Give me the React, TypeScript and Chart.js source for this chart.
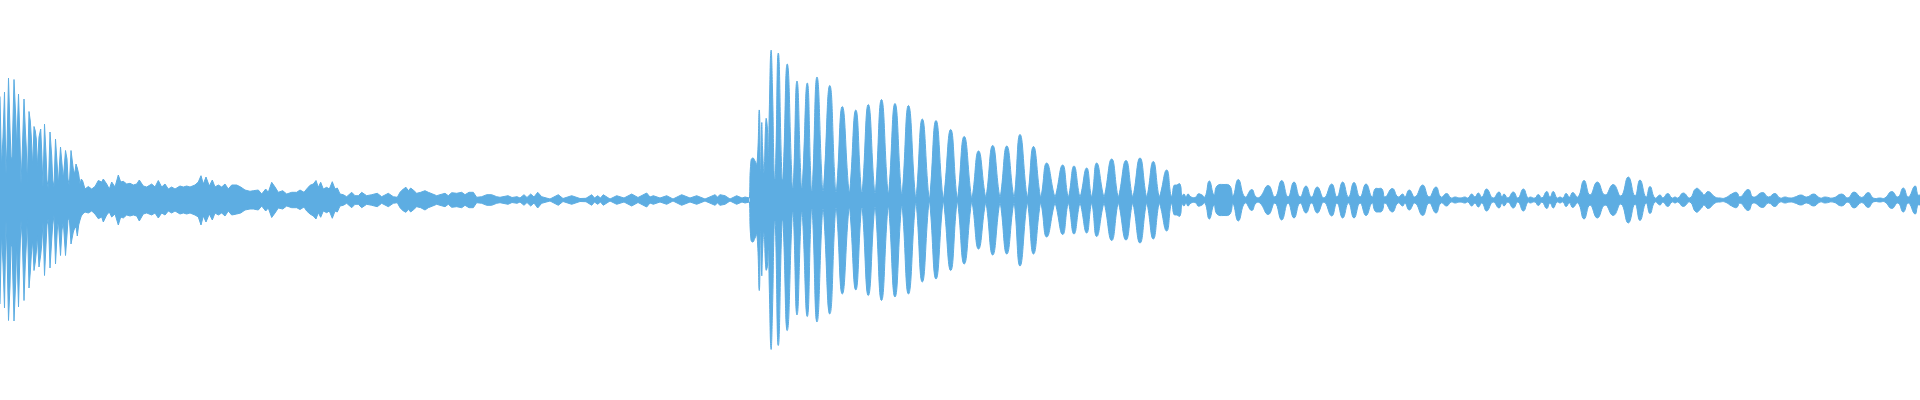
import React, { useEffect, useRef } from "react";
import { Chart, registerables } from "chart.js";

Chart.register(...registerables);

// Waveform envelope: analysis frame index, upper peak and lower peak (amplitude units, full scale ±200)
const frames: number[] = [
  // attack
  0, 1.5, 3, 4.5, 6, 7, 8.5, 10, 11, 12,
  14, 15.7, 16.7, 18.5, 20, 21, 22.3, 24, 25.3, 26.3,
  27.3, 29, 30.3, 31.3, 32.7, 34, 35.3, 36.3, 37.3, 39,
  40.7, 41.7, 43, 44.5, 46, 47, 48.3, 50, 51.7, 52.7,
  54, 55.5, 57.3, 58.3, 60.5, 62, 63.3, 65.5, 67, 68,
  69.3, 71, 73.3, 74.7, 76, 77.3, 78.7, 80, 81.3, 82.7,
  // decay noise
  85, 88.3, 91.7, 95, 98.3, 101.7, 103.3, 106.7, 109.3, 111.7,
  115, 118.3, 120.7, 123.3, 126.7, 130, 133.3, 136.7, 139.3, 143.3,
  146.7, 151.7, 155, 158.3, 161.7, 165, 168.3, 171.7, 175, 180,
  183.3, 186.7, 190, 195, 198.3, 201, 203.3, 206, 209.3, 212.3,
  215, 218.3, 221.7, 225, 228.3, 231.7, 236.7, 240.7, 245, 250,
  253.3, 258.3, 261.7, 265.7, 268.3, 271.7, 275, 278.3, 282.7, 286.7,
  291.7, 296.7, 300, 304, 306.7, 310, 313.3, 316, 318.3, 320.7,
  323.3, 326.7, 329.3, 332.3, 335, 337.3, 340, 343.3, 346.7, 351.7,
  355, 358.3, 361.7, 366.7, 371.7, 377.3, 381.7, 388.3, 393.3, 397.3,
  400, 403.3, 406, 408.3, 410.7, 414, 416.7, 420.7, 425, 428.3,
  432.7, 436.7, 440, 445, 448.3, 451.7, 456.7, 461.7, 465, 469,
  473.3, 476.7, 481.7, 486.7, 491.7, 496.7, 500, 508, 512, 517,
  520, 524, 527, 530.7, 534, 537.7, 541.7, 550, 558.3, 563,
  571.7, 580, 586, 591.7, 594.5, 597.7, 600.5, 603.3, 610, 616.7,
  624, 631.7, 638, 646.7, 650, 653.3, 660, 666.7, 673, 681.7,
  690, 696.7, 705, 715, 717.5, 720, 725, 730, 736.7, 742,
  745, 749.5,
  // second hit with beating lobes
  751, 753, 755, 757, 759.3, 760.5, 761.7, 762.7, 764, 766,
  767.3, 768.3, 769.3, 771, 772.5, 774.3, 775.3, 778.3, 782, 783,
  787.3, 792.3, 793.3, 797, 801.3, 802.3, 807.3, 811.3, 812.3, 817,
  822.5, 823.5, 829.8, 835.5, 836.5, 842.3, 848.8, 849.8, 855.8, 861.3,
  862.3, 868.3, 874.5, 875.5, 881.5, 887.8, 888.8, 895, 901.3, 902.3,
  908.5, 915.3, 916.3, 922.3, 928.8, 929.8, 936, 942.8, 943.8, 950.7,
  956.8, 957.8, 964.2, 971.3, 972.3, 978.5, 985.3, 986.3, 992.7, 999.5,
  1000.5, 1006.8, 1013.5, 1014.5, 1020, 1026.8, 1027.8, 1033.5, 1040.2, 1041.2,
  1046.7, 1054.5, 1055.5, 1062.7, 1067.8, 1068.8, 1074, 1079.5, 1080.5, 1086.7,
  1091.2, 1092.2, 1096.7, 1103.5, 1104.5, 1111.7, 1117.8, 1118.8, 1126, 1132.2,
  1133.2, 1140, 1146.2, 1147.2, 1153.3, 1158.8, 1159.8, 1166.7, 1171, 1172,
  1174, 1176.7, 1180, 1182,
  // tail
  1184, 1186, 1188, 1191, 1196, 1198, 1202, 1205, 1209.3, 1214,
  1217, 1224, 1230, 1233, 1238.3, 1245, 1251.7, 1256, 1260, 1268.3,
  1275, 1281.7, 1288, 1294, 1300, 1306, 1311.5, 1317.3, 1324, 1331.7,
  1337, 1342.7, 1348.5, 1354, 1360, 1366, 1372, 1375, 1378.3, 1382,
  1385, 1392.3, 1398, 1402.7, 1405, 1409.3, 1415, 1422.7, 1429, 1436,
  1441, 1446.7, 1451, 1455, 1460, 1465, 1468, 1471.7, 1475, 1478.3,
  1482, 1486.7, 1493, 1499, 1502, 1504, 1508, 1513.3, 1518, 1523.3,
  1528, 1530, 1535, 1538.3, 1542, 1546.7, 1550, 1553.3, 1557, 1560,
  1563, 1566, 1569.5, 1572.7, 1578, 1584, 1590, 1597.3, 1605, 1613.3,
  1621, 1628.3, 1635, 1640, 1646, 1650, 1655, 1660, 1663, 1667.7,
  1672, 1675, 1678, 1683.3, 1690, 1696, 1701.5, 1704, 1708.3, 1715,
  1720, 1725, 1731.7, 1736.7, 1740, 1748.3, 1753.3, 1762.7, 1768.3, 1775,
  1780, 1785, 1790, 1795, 1801, 1806.7, 1814, 1820, 1825, 1833,
  1841.7, 1848, 1854, 1861.7, 1868.3, 1873.3, 1880, 1885, 1891.7, 1898,
  1903.3, 1908.3, 1915, 1918, 1920,
];

const upperPeak: number[] = [
  // attack
  103.5, 33, 63, 108, 26, 53, 122, 71, 43, 41,
  120.5, 84, 52, 106, 59, 16, 49, 101, 71, 52,
  16, 88.5, 79, 63, 33, 73.5, 69, 61, 33, 63,
  71, 49, 13, 76, 46, 20, 11, 68, 44, 20,
  13, 61, 33, 15, 53, 36, 21, 49.5, 41, 21,
  14, 49.5, 31, 26, 36, 32, 26, 16, 21, 19,
  // decay noise
  11, 13.5, 11, 13.5, 19.5, 18, 21, 16, 11, 18,
  13, 25, 18, 18.7, 16, 16.7, 15, 16, 20, 14,
  13, 16, 13, 19.5, 13, 16, 11, 13, 11, 14,
  13, 14, 13, 15, 18, 24.3, 16, 23, 14, 20,
  13, 15, 13, 16, 11, 15, 15, 13, 10, 8.7,
  9.3, 10, 6, 11, 7.7, 17.7, 13, 7.7, 9.3, 6,
  7.7, 7.7, 10, 7.7, 11, 14.7, 16, 19.5, 12.7, 17.7,
  11, 12.7, 11, 18.3, 11, 12, 6, 5.3, 3.3, 7.7,
  4.3, 4.3, 7.7, 4.3, 5.3, 6.7, 3.3, 6.7, 3.3, 2.7,
  7.7, 11, 12.7, 9.3, 12, 9.3, 6.7, 7.7, 9.3, 7.7,
  6, 4.3, 5.3, 6.7, 4.3, 7.3, 6.7, 7.7, 5.3, 7.7,
  7.7, 2.7, 3.3, 5.3, 5.3, 3.3, 2.7, 4.3, 2.5, 3.3,
  2, 5.3, 2.5, 6, 3, 7.7, 3.3, 1, 5.3, 1.5,
  4.3, 1.5, 1.7, 5.3, 2, 4.3, 2, 5.3, 1, 4.3,
  2, 6, 2.5, 7, 3, 4.3, 2, 4.3, 1, 5.3,
  2, 4.3, 1, 5.3, 3, 5.3, 4.3, 1, 4.3, 2,
  3, 2,
  // second hit
  39.5, 42, 39, 36, 90, 28, 77, 48, 28, 81,
  73, 45, 90, 149.5, 110, 22, 22, 147, 21, 21,
  136, 13, 13, 119, 13, 13, 117, 10, 10, 123,
  10, 10, 114.5, 9, 9, 93.5, 9, 9, 90, 8.5,
  8.5, 95.5, 8, 8, 100.5, 8, 8, 96.5, 7, 7,
  94.5, 4, 4, 81, 3, 3, 79.5, 3, 3, 70.5,
  3, 3, 63.5, 3, 3, 49, 4, 4, 54.5, 4,
  4, 54, 4, 4, 65.5, 4, 4, 53.5, 4, 4,
  37, 4, 4, 35, 4, 4, 34, 4, 4, 32,
  4, 4, 37, 4, 4, 41, 4, 4, 39.5, 4,
  4, 42, 4, 4, 38.5, 4, 4, 30, 4, 4,
  14.5, 15, 16, 4,
  // tail
  6, 3, 6, 3, 3, 6, 5, 3, 19, 5,
  14, 15.5, 14, 4, 20.5, 3, 10.5, 3, 3, 14.5,
  3, 19.5, 3, 18, 3, 14, 3, 13, 2, 16,
  3, 18, 3, 17.5, 3, 16, 3, 11, 11.5, 11,
  3, 11.5, 3, 6, 3, 10, 3, 15, 3, 13,
  3, 6.5, 2, 3, 2, 3, 2, 6, 3, 7,
  3, 11, 2, 8, 3, 6, 2, 8, 2, 11,
  2, 3, 2, 5.5, 2, 8.5, 3, 8.5, 2, 3,
  2, 6.5, 3, 7.5, 3, 19.5, 5, 18, 5, 15.5,
  4, 23, 4, 20, 3, 13.5, 2, 5, 2, 6.5,
  2, 3, 2, 7, 2, 11.5, 8, 5, 8.5, 3,
  2, 2, 6, 7.5, 3, 10.5, 3, 7.5, 3, 6.5,
  2, 3, 2, 3, 5, 3, 6, 2, 3, 2,
  6, 2, 8, 2.5, 7.5, 2, 2, 2, 8.5, 3,
  12, 3, 14, 5, 5,
];

const lowerPeak: number[] = [
  // attack
  -104, -33, -64, -108, -20, -52, -120.5, -86, -44, -47,
  -121, -82, -42, -107, -52, -20, -40, -100.5, -64, -45,
  -17, -88, -72, -55, -40, -70.5, -62, -52, -35, -67,
  -55, -45, -22, -75.5, -45, -25, -18, -68, -40, -25,
  -15, -64, -30, -20, -55.5, -30, -22, -55.5, -35, -20,
  -18, -44, -32, -28, -27, -36, -25, -20, -16, -14,
  // decay noise
  -12, -13, -11, -14, -18.7, -17, -22, -15, -12, -17,
  -14, -25, -17, -18, -15, -16, -15, -16, -21, -14,
  -13, -15, -13, -18, -13, -15, -11, -13, -11, -14,
  -13, -14, -13, -15, -17, -25, -16, -22, -14, -20,
  -13, -15, -13, -16, -11, -15, -14, -13, -10, -9,
  -9, -10, -6, -11, -8, -17.5, -13, -8, -9, -6,
  -7.7, -7.7, -9.5, -7, -11, -14, -16, -19, -12.7, -17.3,
  -11, -12.7, -11, -18.3, -11, -12, -6, -5.3, -3.3, -7.7,
  -4.3, -4.3, -7.7, -4.3, -5.3, -6.7, -3.3, -6.7, -3.3, -2.7,
  -7.7, -11, -12.3, -9.3, -12, -9.3, -6.7, -7.7, -10, -7.7,
  -6, -4.3, -5.3, -6.7, -4.3, -7.3, -6.7, -7.7, -5.3, -7.7,
  -7.7, -2.7, -3.3, -5.3, -5.3, -3.3, -2.7, -4.3, -2.5, -3.3,
  -2, -5.3, -2.5, -6, -3, -8, -3.3, -1, -5.3, -1.5,
  -4.3, -1.5, -1.7, -5.3, -2, -4.3, -2, -5.3, -1, -4.3,
  -2, -6, -2.5, -7, -3, -4.3, -2, -4.3, -1, -5.3,
  -2, -4.3, -1, -5.3, -3, -5.3, -4.3, -1, -4.3, -2,
  -3, -2,
  // second hit
  -40, -42, -38, -35, -90.5, -30, -75.5, -48, -33, -70,
  -67, -45, -88, -149, -110, -22, -22, -145.5, -21, -21,
  -130.5, -13, -13, -115, -13, -13, -116.5, -10, -10, -122,
  -10, -10, -114, -9, -9, -94, -9, -9, -90, -8.5,
  -8.5, -95.5, -8, -8, -100.5, -8, -8, -97, -7, -7,
  -94, -4, -4, -82, -3, -3, -79, -3, -3, -70.5,
  -3, -3, -64, -3, -3, -49, -4, -4, -55, -4,
  -4, -54, -4, -4, -66, -4, -4, -54, -4, -4,
  -37, -4, -4, -34.5, -4, -4, -34, -4, -4, -33,
  -4, -4, -36.5, -4, -4, -40.5, -4, -4, -40, -4,
  -4, -43, -4, -4, -39, -4, -4, -31, -4, -4,
  -14.5, -15, -16, -4,
  // tail
  -6, -3, -6, -3, -3, -6, -5, -3, -19, -5,
  -14, -15.5, -14, -4, -21, -3, -10.5, -3, -3, -14.5,
  -3, -20, -3, -18, -3, -13, -3, -13, -2, -16,
  -3, -18, -3, -18, -3, -15.5, -3, -11, -12, -11,
  -3, -12, -3, -6, -3, -10, -3, -15.5, -3, -13,
  -3, -6, -2, -3, -2, -3, -2, -6, -3, -7,
  -3, -11, -2, -8, -3, -6, -2, -8, -2, -11,
  -2, -3, -2, -5.5, -2, -8.5, -3, -8, -2, -3,
  -2, -6.5, -3, -7.5, -3, -19, -5, -18, -5, -15.5,
  -4, -23, -4, -20.5, -3, -13.5, -2, -5, -2, -6.5,
  -2, -3, -2, -6.5, -2, -12, -8, -5, -8.5, -3,
  -2, -2, -6, -7.5, -3, -10.5, -3, -7.5, -3, -6.5,
  -2, -3, -2, -3, -5, -3, -6, -2, -3, -2,
  -6, -2, -8, -2.5, -7.5, -2, -2, -2, -8.5, -3,
  -12, -3, -14, -5, -5,
];

// frame where the second (tonal, beating) hit begins
const SECOND_HIT_FRAME = 749.5;

const FRAME_MIN = 0;
const FRAME_MAX = 1920;
const AMP_MIN = -200;
const AMP_MAX = 200;
const WAVE_COLOR = "#5DADE2";

export default function App() {
  const canvasRef = useRef<HTMLCanvasElement | null>(null);

  useEffect(() => {
    const canvas = canvasRef.current;
    if (!canvas) return;
    const n = Math.min(frames.length, upperPeak.length, lowerPeak.length);
    const upA = [];
    const loA = [];
    const upB = [];
    const loB = [];
    for (let i = 0; i < n; i++) {
      const f = frames[i];
      if (f <= SECOND_HIT_FRAME) {
        upA.push({ x: f, y: upperPeak[i] });
        loA.push({ x: f, y: lowerPeak[i] });
      }
      if (f >= SECOND_HIT_FRAME) {
        upB.push({ x: f, y: upperPeak[i] });
        loB.push({ x: f, y: lowerPeak[i] });
      }
    }
    const base = {
      borderColor: WAVE_COLOR,
      backgroundColor: WAVE_COLOR,
      borderWidth: 1,
      pointRadius: 0,
    };
    const chart = new Chart(canvas, {
      type: "line",
      data: {
        datasets: [
          { ...base, data: upA, tension: 0, fill: "+1" },
          { ...base, data: loA, tension: 0, fill: false },
          { ...base, data: upB, tension: 0.5, fill: "+1" },
          { ...base, data: loB, tension: 0.5, fill: false },
        ],
      },
      options: {
        animation: false,
        responsive: false,
        devicePixelRatio: 1,
        parsing: false,
        normalized: true,
        events: [],
        layout: { padding: 0 },
        plugins: {
          legend: { display: false },
          tooltip: { enabled: false },
        },
        scales: {
          x: { type: "linear", min: FRAME_MIN, max: FRAME_MAX, display: false },
          y: { type: "linear", min: AMP_MIN, max: AMP_MAX, display: false },
        },
      },
    });
    return () => chart.destroy();
  }, []);

  return (
    <div
      style={{
        position: "fixed",
        left: 0,
        top: 0,
        width: 1920,
        height: 400,
        background: "#ffffff",
      }}
    >
      <canvas ref={canvasRef} width={1920} height={400} style={{ display: "block" }} />
    </div>
  );
}
